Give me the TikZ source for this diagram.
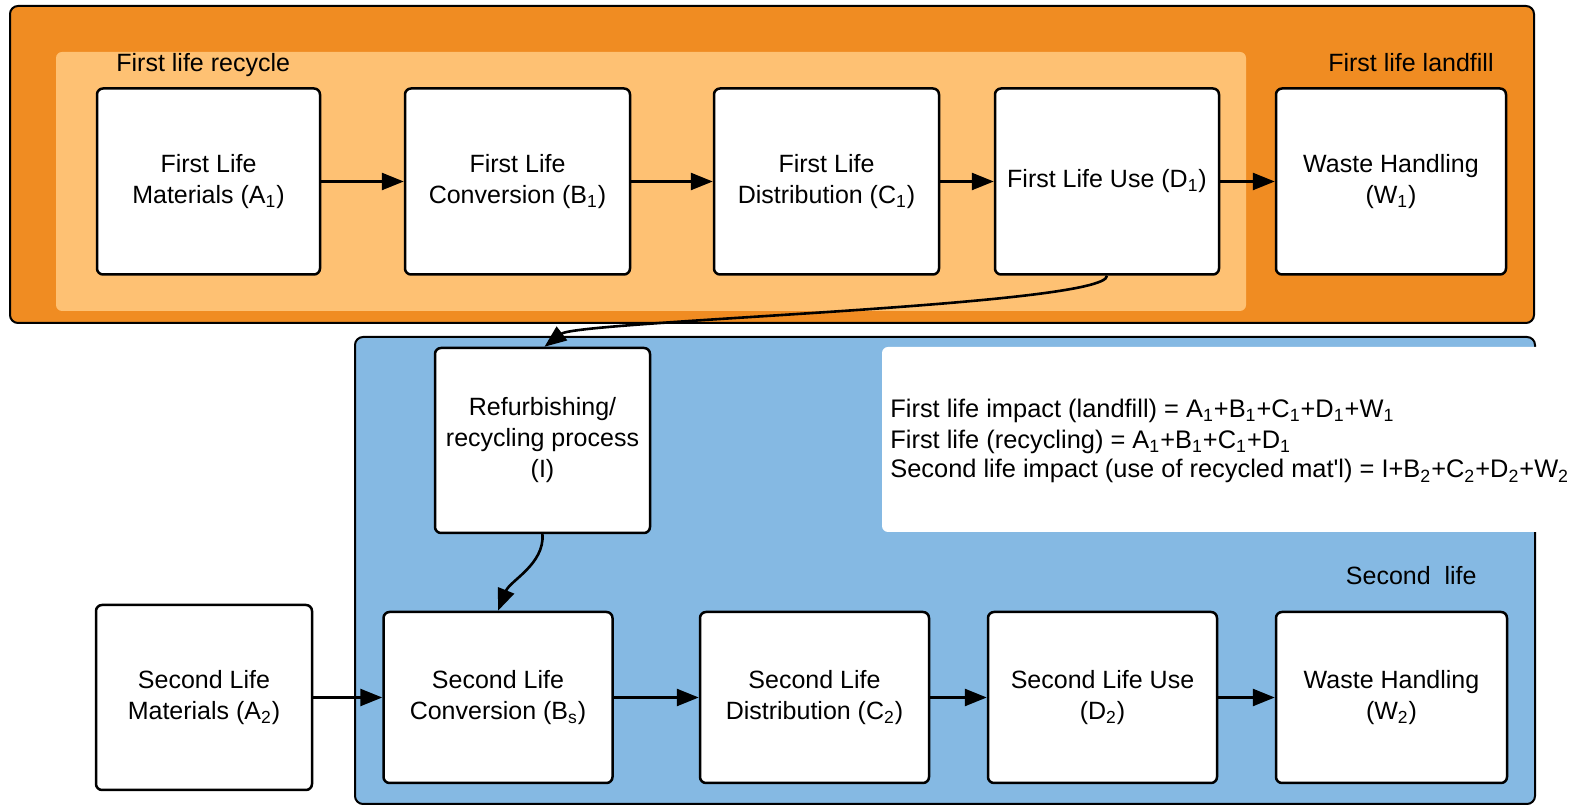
\documentclass[tikz,border=0pt]{standalone}
\usepackage{fontspec}
\setmainfont{Liberation Sans}
\usetikzlibrary{arrows.meta}
\definecolor{outerorange}{HTML}{F08C22}
\definecolor{innerorange}{HTML}{FEC173}
\definecolor{secondblue}{HTML}{85B9E3}
\begin{document}
\begin{tikzpicture}[x=0.5pt,y=-0.5pt,
  every node/.style={font=\fontsize{12.5}{15.5}\selectfont},
  box/.style={draw=black, line width=1.25pt, rounded corners=3pt, fill=white,
    align=center, inner sep=2pt},
  toprow/.style={box, minimum height=93pt},
  botrow/.style={box, minimum height=85.5pt, minimum width=114.5pt},
  flow/.style={line width=1.3pt, -{Triangle[length=11pt,width=8.5pt]}},
  label/.style={inner sep=0pt},
  formula/.style={label, anchor=base west, font=\fontsize{12.7}{15.5}\selectfont}]
\useasboundingbox (0,0) rectangle (1587,806);

% regions
\draw[fill=outerorange, draw=black, line width=1pt, rounded corners=4pt]
  (10,6) rectangle (1534,323);
\fill[innerorange, rounded corners=3pt] (56,52) rectangle (1246,311);
\draw[fill=secondblue, draw=black, line width=1pt, rounded corners=4pt]
  (355,337) rectangle (1535,804);
\fill[white, rounded corners=3pt] (882,347) rectangle (1620,532);

% region labels
\node[label, anchor=base west] (reclabel) at (116,72) {First life recycle};
\node[label, anchor=base east] (landlabel) at (1494,72) {First life landfill};
\node[label, anchor=base east] (seclabel) at (1477,585) {Second~ life};

% impact formulas
\node[formula] (info1) at (890,418)
  {First life impact (landfill) = A\textsubscript{1}+B\textsubscript{1}+C\textsubscript{1}+D\textsubscript{1}+W\textsubscript{1}};
\node[formula] (info2) at (890,449)
  {First life (recycling) = A\textsubscript{1}+B\textsubscript{1}+C\textsubscript{1}+D\textsubscript{1}};
\node[formula] (info3) at (890,478)
  {Second life impact (use of recycled mat\textquotesingle l) = I+B\textsubscript{2}+C\textsubscript{2}+D\textsubscript{2}+W\textsubscript{2}};

% first life chain
\node[toprow, minimum width=111.5pt] (a1) at (208.5,181.5) {First Life\\Materials (A\textsubscript{1})};
\node[toprow, minimum width=112.5pt] (b1) at (517.5,181.5) {First Life\\Conversion (B\textsubscript{1})};
\node[toprow, minimum width=112.5pt] (c1) at (826.5,181.5) {First Life\\Distribution (C\textsubscript{1})};
\node[toprow, minimum width=112pt] (d1) at (1107,181.5) {First Life Use (D\textsubscript{1})};
\node[toprow, minimum width=115pt] (w1) at (1391,181.5) {Waste Handling\\(W\textsubscript{1})};

% recycling step
\node[box, minimum width=107.5pt, minimum height=92.5pt] (ref) at (542.5,440.5)
  {Refurbishing/\\recycling process\\(I)};

% second life chain
\node[box, minimum width=108pt, minimum height=92.5pt] (a2) at (204,697.5) {Second Life\\Materials (A\textsubscript{2})};
\node[botrow] (b2) at (498,697.5) {Second Life\\Conversion (B\textsubscript{s})};
\node[botrow] (c2) at (814.5,697.5) {Second Life\\Distribution (C\textsubscript{2})};
\node[botrow] (d2) at (1102.5,697.5) {Second Life Use\\(D\textsubscript{2})};
\node[botrow, minimum width=115.5pt] (w2) at (1391.5,697.5) {Waste Handling\\(W\textsubscript{2})};

% connectors
\draw[flow] (a1) -- (b1);
\draw[flow] (b1) -- (c1);
\draw[flow] (c1) -- (d1);
\draw[flow] (d1) -- (w1);
\draw[flow] (a2) -- (b2);
\draw[flow] (b2) -- (c2);
\draw[flow] (c2) -- (d2);
\draw[flow] (d2) -- (w2);
\draw[flow] (d1.south) .. controls +(0,30) and +(34,-26) .. ([xshift=1pt]ref.north);
\draw[flow] (ref.south) .. controls +(2,30) and +(12,-30) .. (b2.north);
\end{tikzpicture}
\end{document}
